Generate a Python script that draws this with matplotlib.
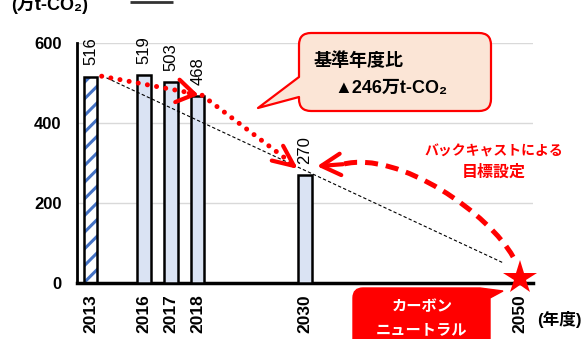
import matplotlib
matplotlib.use("Agg")
import matplotlib.pyplot as plt
import matplotlib.transforms as mtransforms
from matplotlib.path import Path
from matplotlib.patches import PathPatch
import numpy as np

plt.rcParams["font.family"] = ["Liberation Sans", "Noto Sans CJK JP", "DejaVu Sans"]
plt.rcParams["hatch.linewidth"] = 2.2

# ---- data -------------------------------------------------------------
# category slots on the x axis (blank slots keep the gaps between years)
slots = ["2013", "", "2016", "2017", "2018", "", "", "", "2030",
         "", "", "", "", "", "", "", "2050"]
bar_years = ["2013", "2016", "2017", "2018", "2030"]
emissions = [516, 519, 503, 468, 270]          # 万t-CO2
target_year = "2050"
target_value = 0
yticks = [0, 200, 400, 600]
reduction = emissions[0] - emissions[-1]        # vs. base year 2013

# ---- style ------------------------------------------------------------
RED = "#ff0000"
BAR_FILL = "#dae3f3"
HATCH_BLUE = "#4472c4"
PEACH = "#fbe5d6"
GRID = "#d9d9d9"

W, H = 581, 339
fig = plt.figure(figsize=(W / 100, H / 100), dpi=100)
ax = fig.add_axes([77 / W, 56 / H, 456 / W, 240 / H])

xs = [slots.index(y) for y in bar_years]
tx = slots.index(target_year)

ax.set_xlim(-0.5, len(slots) - 0.5)
ax.set_ylim(0, 600)

# base year bar: white with blue diagonal stripes
ax.bar(xs[0], emissions[0], width=0.5, color="white", edgecolor=HATCH_BLUE,
       hatch="//", linewidth=0, zorder=2)
ax.bar(xs[0], emissions[0], width=0.5, fill=False, edgecolor="black",
       linewidth=1.8, zorder=3)
# other years
ax.bar(xs[1:], emissions[1:], width=0.5, color=BAR_FILL, edgecolor="black",
       linewidth=1.8, zorder=3)

for x, v in zip(xs, emissions):
    ax.annotate(str(v), (x, v), xytext=(0, 8), textcoords="offset points",
                rotation=90, ha="center", va="bottom", fontsize=12, zorder=4)

# thin straight guide from the base year down towards zero
guide_x = np.array([0.6, 15.35])
guide_y = emissions[0] * (tx + 1 - guide_x) / (tx + 0.5)
ax.plot(guide_x, guide_y, color="black", lw=0.8, dashes=(3, 2), zorder=4)

# red dotted trend 2013 -> 2018 -> 2030
trend_x = [0.42, xs[3] + 0.15, xs[4] - 0.74]
trend_y = [emissions[0] + 1, emissions[3] + 2, emissions[4] + 42]
ax.plot(trend_x, trend_y, color=RED, lw=3.6, linestyle=(0, (0.01, 1.85)),
        dash_capstyle="round", zorder=5, clip_on=False)


def arrow_head(tip, frm, back_px, hl, hw, lw):
    p_tip = ax.transData.transform(tip)
    p_frm = ax.transData.transform(frm)
    d = p_tip - p_frm
    d = d / np.hypot(*d)
    start = ax.transData.inverted().transform(p_tip - d * back_px)
    ax.annotate("", xy=tip, xytext=start, xycoords="data", textcoords="data",
                annotation_clip=False, zorder=6,
                arrowprops=dict(arrowstyle=f"->,head_length={hl},head_width={hw}",
                                lw=lw, color=RED, shrinkA=0, shrinkB=0,
                                mutation_scale=1))


arrow_head((xs[3] + 0.03, emissions[3] + 2), (trend_x[0], trend_y[0]), 10, 12.7, 8.2, 3)
arrow_head((xs[4] - 0.26, emissions[4] + 15), (trend_x[1], trend_y[1]), 10, 15, 6.7, 3)

# dashed back-casting curve from 2050 back to the 2030 target
curve_pts = [(tx - 0.24, 65), (tx - 1.1, 170), (tx - 4.46, 332), (tx - 6.58, 297)]
curve = Path(curve_pts, [Path.MOVETO, Path.CURVE4, Path.CURVE4, Path.CURVE4])
ax.add_patch(PathPatch(curve, fill=False, edgecolor=RED, lw=3.6,
                       linestyle=(0, (2.6, 1.6)), capstyle="butt",
                       zorder=5, clip_on=False))
arrow_head((xs[4] + 0.45, emissions[4] + 22), curve_pts[-1], 26, 13.8, 7.7, 3)

# 2050 carbon neutral star
star_tr = mtransforms.offset_copy(ax.transData, fig=fig, x=0, y=3.8, units="points")
ax.plot([tx], [target_value], marker="*", ms=25.5, color=RED, mew=0,
        clip_on=False, zorder=7, transform=star_tr)

# axes styling
ax.set_yticks(yticks)
ax.set_xticks(xs + [tx], bar_years + [target_year], rotation=90)
ax.yaxis.grid(True, color=GRID, lw=1)
ax.set_axisbelow(True)
ax.tick_params(length=0)
ax.tick_params(axis="y", pad=11, labelsize=12)
ax.tick_params(axis="x", pad=8, labelsize=12.5)
for lbl in ax.get_xticklabels() + ax.get_yticklabels():
    lbl.set_fontweight("bold")
for s in ("top", "right"):
    ax.spines[s].set_visible(False)
ax.spines["left"].set_linewidth(2)
ax.spines["bottom"].set_linewidth(2.5)
ax.spines["left"].set_color("black")
ax.spines["bottom"].set_color("black")

# ---- overlay in pixel units for callouts and captions -----------------
ov = fig.add_axes([0, 0, 1, 1], zorder=5)
ov.set_xlim(0, W)
ov.set_ylim(H, 0)
ov.axis("off")

M, L, C3, CL = Path.MOVETO, Path.LINETO, Path.CURVE3, Path.CLOSEPOLY

# peach speech bubble with pointer on the left edge
x0, y0, x1, y1, r = 299, 33, 491, 111, 12
tip = (258, 108)
verts = [(x0 + r, y0), (x1 - r, y0), (x1, y0), (x1, y0 + r), (x1, y1 - r),
         (x1, y1), (x1 - r, y1), (x0 + r, y1), (x0, y1), (x0, y1 - r),
         (x0, 97), tip, (x0, 77), (x0, y0 + r), (x0, y0), (x0 + r, y0),
         (x0 + r, y0)]
codes = [M, L, C3, C3, L, C3, C3, L, C3, C3, L, L, L, L, C3, C3, CL]
ov.add_patch(PathPatch(Path(verts, codes), facecolor=PEACH, edgecolor=RED,
                       lw=1.6, joinstyle="round"))
ov.text(314, 66, "基準年度比", fontsize=13, fontweight="bold",
        ha="left", va="baseline")
ov.text(334, 93, f"▲{reduction}万t-CO₂", fontsize=13, fontweight="bold",
        ha="left", va="baseline")

# red box for carbon neutral with pointer towards the star
x0, y0, x1, y1, r = 353, 288, 490, 370, 10
verts = [(x0 + r, y0), (x1 - r, y0), (503, 291), (x1, y0 + r), (x1, y1),
         (x0, y1), (x0, y0 + r), (x0, y0), (x0 + r, y0), (x0 + r, y0)]
codes = [M, L, L, L, L, L, L, C3, C3, CL]
ov.add_patch(PathPatch(Path(verts, codes), facecolor=RED, edgecolor=RED, lw=1))
ov.text(422, 307.5, "カーボン", color="white", fontsize=11, fontweight="bold",
        ha="center", va="center")
ov.text(421, 330.5, "ニュートラル", color="white", fontsize=11, fontweight="bold",
        ha="center", va="center")

ov.text(494, 151.5, "バックキャストによる", color=RED, fontsize=10,
        fontweight="bold", ha="center", va="center")
ov.text(494, 172.5, "目標設定", color=RED, fontsize=11.5,
        fontweight="bold", ha="center", va="center")

# axis captions
ov.text(11, 10, "(万t-CO₂)", fontsize=13, fontweight="bold", ha="left", va="baseline")
ov.text(537, 320, "(年度)", fontsize=12, fontweight="bold", ha="left", va="center")
ov.plot([130, 173], [2, 2], color="#333333", lw=2, solid_capstyle="butt")

fig.savefig("out.png", dpi=100)
